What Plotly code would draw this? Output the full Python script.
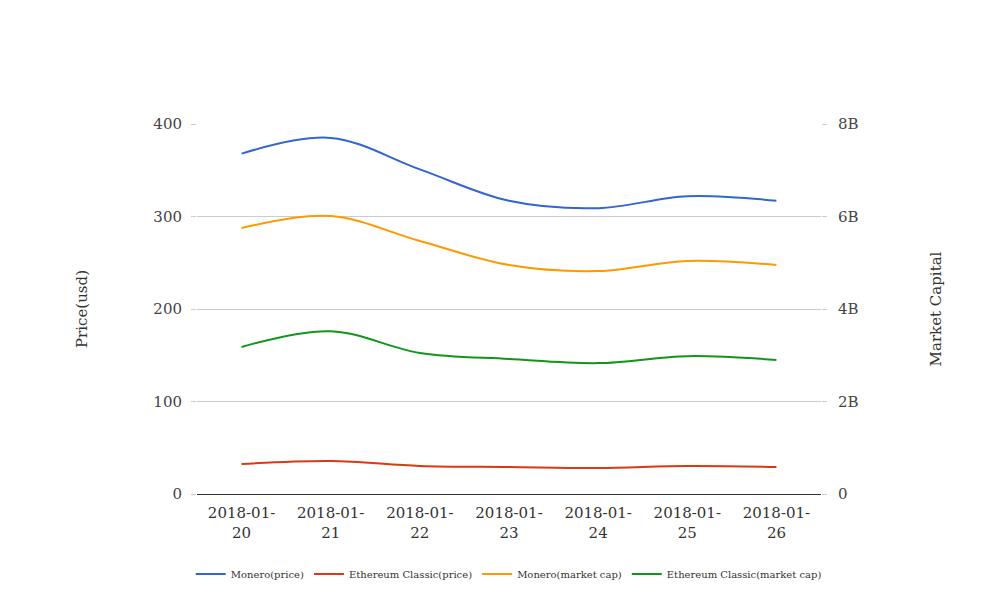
import plotly.graph_objects as go

dates = ["2018-01-20", "2018-01-21", "2018-01-22", "2018-01-23", "2018-01-24", "2018-01-25", "2018-01-26"]
tick_text = ["2018-01-<br>20", "2018-01-<br>21", "2018-01-<br>22", "2018-01-<br>23", "2018-01-<br>24", "2018-01-<br>25", "2018-01-<br>26"]

monero_price = [368, 385, 351, 317, 309, 322, 317]
etc_price = [32.4, 35.7, 30.3, 29.2, 28.1, 30.3, 29.2]
monero_cap = [5.75e9, 6.01e9, 5.47e9, 4.95e9, 4.82e9, 5.04e9, 4.95e9]
etc_cap = [3.18e9, 3.52e9, 3.05e9, 2.92e9, 2.83e9, 2.98e9, 2.90e9]

FONT = "DejaVu Serif"

fig = go.Figure()
fig.add_trace(go.Scatter(x=dates, y=monero_price, name="Monero(price)", mode="lines",
                         line=dict(color="#3366cc", width=2, shape="spline", smoothing=1)))
fig.add_trace(go.Scatter(x=dates, y=etc_price, name="Ethereum Classic(price)", mode="lines",
                         line=dict(color="#dc3912", width=2, shape="spline", smoothing=1)))
fig.add_trace(go.Scatter(x=dates, y=monero_cap, name="Monero(market cap)", mode="lines", yaxis="y2",
                         line=dict(color="#ff9900", width=2, shape="spline", smoothing=1)))
fig.add_trace(go.Scatter(x=dates, y=etc_cap, name="Ethereum Classic(market cap)", mode="lines", yaxis="y2",
                         line=dict(color="#109618", width=2, shape="spline", smoothing=1)))

fig.update_layout(
    width=1008, height=616,
    paper_bgcolor="white", plot_bgcolor="white",
    margin=dict(l=189, r=195, t=116, b=130, autoexpand=False),
    font=dict(family=FONT, size=15, color="#444"),
    xaxis=dict(type="category", tickvals=dates, ticktext=tick_text, range=[-0.5, 6.5],
               showgrid=False, showline=True, linecolor="#333", linewidth=1,
               tickfont=dict(family=FONT, size=15, color="#333"), ticks="", ticklabelstandoff=5),
    yaxis=dict(range=[0, 400], tickvals=[0, 100, 200, 300, 400], showgrid=True, gridcolor="#cccccc",
               zeroline=False, ticks="outside", ticklen=5, tickcolor="#cccccc", ticklabelstandoff=6,
               title=dict(text="Price(usd)", font=dict(family=FONT, size=15, color="#333"), standoff=62),
               tickfont=dict(family=FONT, size=15, color="#444")),
    yaxis2=dict(range=[0, 8e9], tickvals=[0, 2e9, 4e9, 6e9, 8e9], ticktext=["0", "2B", "4B", "6B", "8B"],
                overlaying="y", side="right", showgrid=False, zeroline=False,
                ticks="outside", ticklen=5, tickcolor="#cccccc", ticklabelstandoff=8,
                title=dict(text="Market Capital", font=dict(family=FONT, size=15, color="#333"), standoff=72),
                tickfont=dict(family=FONT, size=15, color="#444")),
    legend=dict(orientation="h", xref="paper", yref="paper", x=-0.01, xanchor="left",
                y=-0.216, yanchor="middle",
                font=dict(family=FONT, size=10, color="#333")),
    showlegend=True,
)

fig.write_html("out.html")
